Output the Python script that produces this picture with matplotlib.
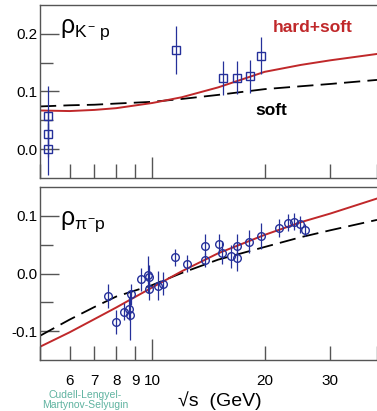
import matplotlib
matplotlib.use("Agg")
import matplotlib.pyplot as plt
from matplotlib.ticker import FixedLocator, NullFormatter, FixedFormatter
import numpy as np

plt.rcParams['font.family'] = ['Liberation Sans', 'DejaVu Sans']
plt.rcParams['mathtext.fontset'] = 'custom'
plt.rcParams['mathtext.rm'] = 'Liberation Sans'
plt.rcParams['mathtext.it'] = 'Liberation Sans'
plt.rcParams['axes.unicode_minus'] = False

# K- p data
kp_x = [5.24, 5.24, 5.24, 11.6, 15.5, 16.9, 18.3, 19.6]
kp_y = [0.0, 0.027, 0.057, 0.172, 0.123, 0.124, 0.126, 0.162]
kp_err = [0.045, 0.04, 0.052, 0.042, 0.029, 0.029, 0.029, 0.032]

# K- p curves
kp_curve_x = [5, 6, 7, 8, 10, 12, 15, 20, 25, 30, 40]
kp_hard_soft = [0.067, 0.066, 0.068, 0.071, 0.080, 0.090, 0.107, 0.134, 0.146, 0.154, 0.165]
kp_soft = [0.074, 0.076, 0.077, 0.079, 0.082, 0.087, 0.094, 0.104, 0.109, 0.113, 0.120]

# pi- p data
pp_x = [7.59, 8.0, 8.38, 8.68, 8.7, 8.78, 9.33, 9.76, 9.78, 9.82, 10.38, 10.66,
        11.52, 12.36, 13.83, 13.83, 15.1, 15.4, 16.3, 16.9, 16.9, 18.2, 19.5,
        21.8, 23.1, 23.9, 24.9, 25.6]
pp_y = [-0.039, -0.084, -0.066, -0.061, -0.072, -0.036, -0.010, -0.002, -0.006,
        -0.026, -0.021, -0.018, 0.028, 0.017, 0.048, 0.023, 0.052, 0.036, 0.030,
        0.048, 0.027, 0.055, 0.065, 0.079, 0.088, 0.090, 0.085, 0.075]
pp_err = [0.02, 0.02, 0.015, 0.02, 0.043, 0.018, 0.02, 0.032, 0.02, 0.02, 0.025, 0.02,
          0.015, 0.015, 0.02, 0.012, 0.016, 0.02, 0.02, 0.02, 0.022, 0.02, 0.022,
          0.015, 0.015, 0.015, 0.015, 0.01]

# pi- p curves
pp_curve_x = [5, 6, 7, 8, 10, 12, 15, 20, 25, 30, 40]
pp_hard_soft = [-0.127, -0.102, -0.079, -0.059, -0.024, 0.004, 0.035, 0.067, 0.089, 0.104, 0.130]
pp_soft = [-0.108, -0.080, -0.058, -0.040, -0.020, 0.001, 0.024, 0.046, 0.063, 0.075, 0.093]

x_ticks = [5, 6, 7, 8, 9, 20, 30, 40]
x_labels = ['', '6', '7', '8', '9', '20', '30', '']

red = '#c0282a'
blue = '#25309a'
frame = '#555555'

fig = plt.figure(figsize=(3.77, 4.11), dpi=100)
ax1 = fig.add_axes([0.106, 0.567, 0.894, 0.421])
ax2 = fig.add_axes([0.106, 0.124, 0.894, 0.421])


def style(ax, ylim, majors, minors, labels):
    ax.set_xscale('log')
    ax.set_xlim(5, 40)
    ax.set_ylim(*ylim)
    ax.spines['right'].set_visible(False)
    for s in ['left', 'top', 'bottom']:
        ax.spines[s].set_color(frame)
        ax.spines[s].set_linewidth(1.0)
    ax.xaxis.set_major_locator(FixedLocator([10]))
    ax.xaxis.set_minor_locator(FixedLocator(x_ticks))
    ax.xaxis.set_major_formatter(NullFormatter())
    ax.xaxis.set_minor_formatter(NullFormatter())
    ax.yaxis.set_major_locator(FixedLocator(majors))
    ax.yaxis.set_major_formatter(FixedFormatter(labels))
    ax.yaxis.set_minor_locator(FixedLocator(minors))
    ax.tick_params(which='major', direction='in', length=14, width=1, color=frame,
                   labelsize=11)
    ax.tick_params(which='minor', direction='in', length=9, width=1, color=frame)
    ax.tick_params(axis='x', which='minor', length=10)
    ax.tick_params(axis='x', which='major', length=15)
    ax.tick_params(axis='y', which='major', pad=2)


style(ax1, (-0.05, 0.25), [0.0, 0.1, 0.2], [0.05, 0.15], ['0.0', '0.1', '0.2'])
style(ax2, (-0.15, 0.15), [-0.1, 0.0, 0.1], [-0.05, 0.05], ['-0.1', '0.0', '0.1'])

# top panel
ax1.plot(kp_curve_x, kp_soft, color='black', lw=1.3, dashes=(9, 4))
ax1.plot(kp_curve_x, kp_hard_soft, color=red, lw=1.4)
ax1.errorbar(kp_x, kp_y, yerr=kp_err, fmt='s', ms=5.5, mfc='none', mec=blue,
             mew=1.0, ecolor=blue, elinewidth=0.9, capsize=0)
ax1.text(0.06, 0.86, r'$\rho_{K^{-}\ p}$', transform=ax1.transAxes, fontsize=18,
         va='center')
ax1.text(0.69, 0.87, 'hard+soft', transform=ax1.transAxes, fontsize=12.5,
         fontweight='bold', color=red, va='center')
ax1.text(0.64, 0.39, 'soft', transform=ax1.transAxes, fontsize=12.5,
         fontweight='bold', color='black', va='center')

# bottom panel
ax2.plot(pp_curve_x, pp_soft, color='black', lw=1.3, dashes=(9, 4))
ax2.plot(pp_curve_x, pp_hard_soft, color=red, lw=1.4)
ax2.errorbar(pp_x, pp_y, yerr=pp_err, fmt='o', ms=5.5, mfc='none', mec=blue,
             mew=1.0, ecolor=blue, elinewidth=0.9, capsize=0)
ax2.text(0.06, 0.8, r'$\rho_{\pi^{-}p}$', transform=ax2.transAxes, fontsize=18,
         va='center')

ax2.xaxis.set_minor_formatter(FixedFormatter(x_labels))
ax2.xaxis.set_major_formatter(FixedFormatter(['10']))
ax2.tick_params(axis='x', which='both', labelsize=11, pad=10)

fig.text(0.584, 0.012, '\u221as  (GeV)', fontsize=14, ha='center')
fig.text(0.225, 0.027, 'Cudell-Lengyel-\nMartynov-Selyugin', fontsize=7.5,
         color='#5fb3a0', ha='center', va='center', linespacing=1.1)

fig.savefig('out.png', dpi=100)
